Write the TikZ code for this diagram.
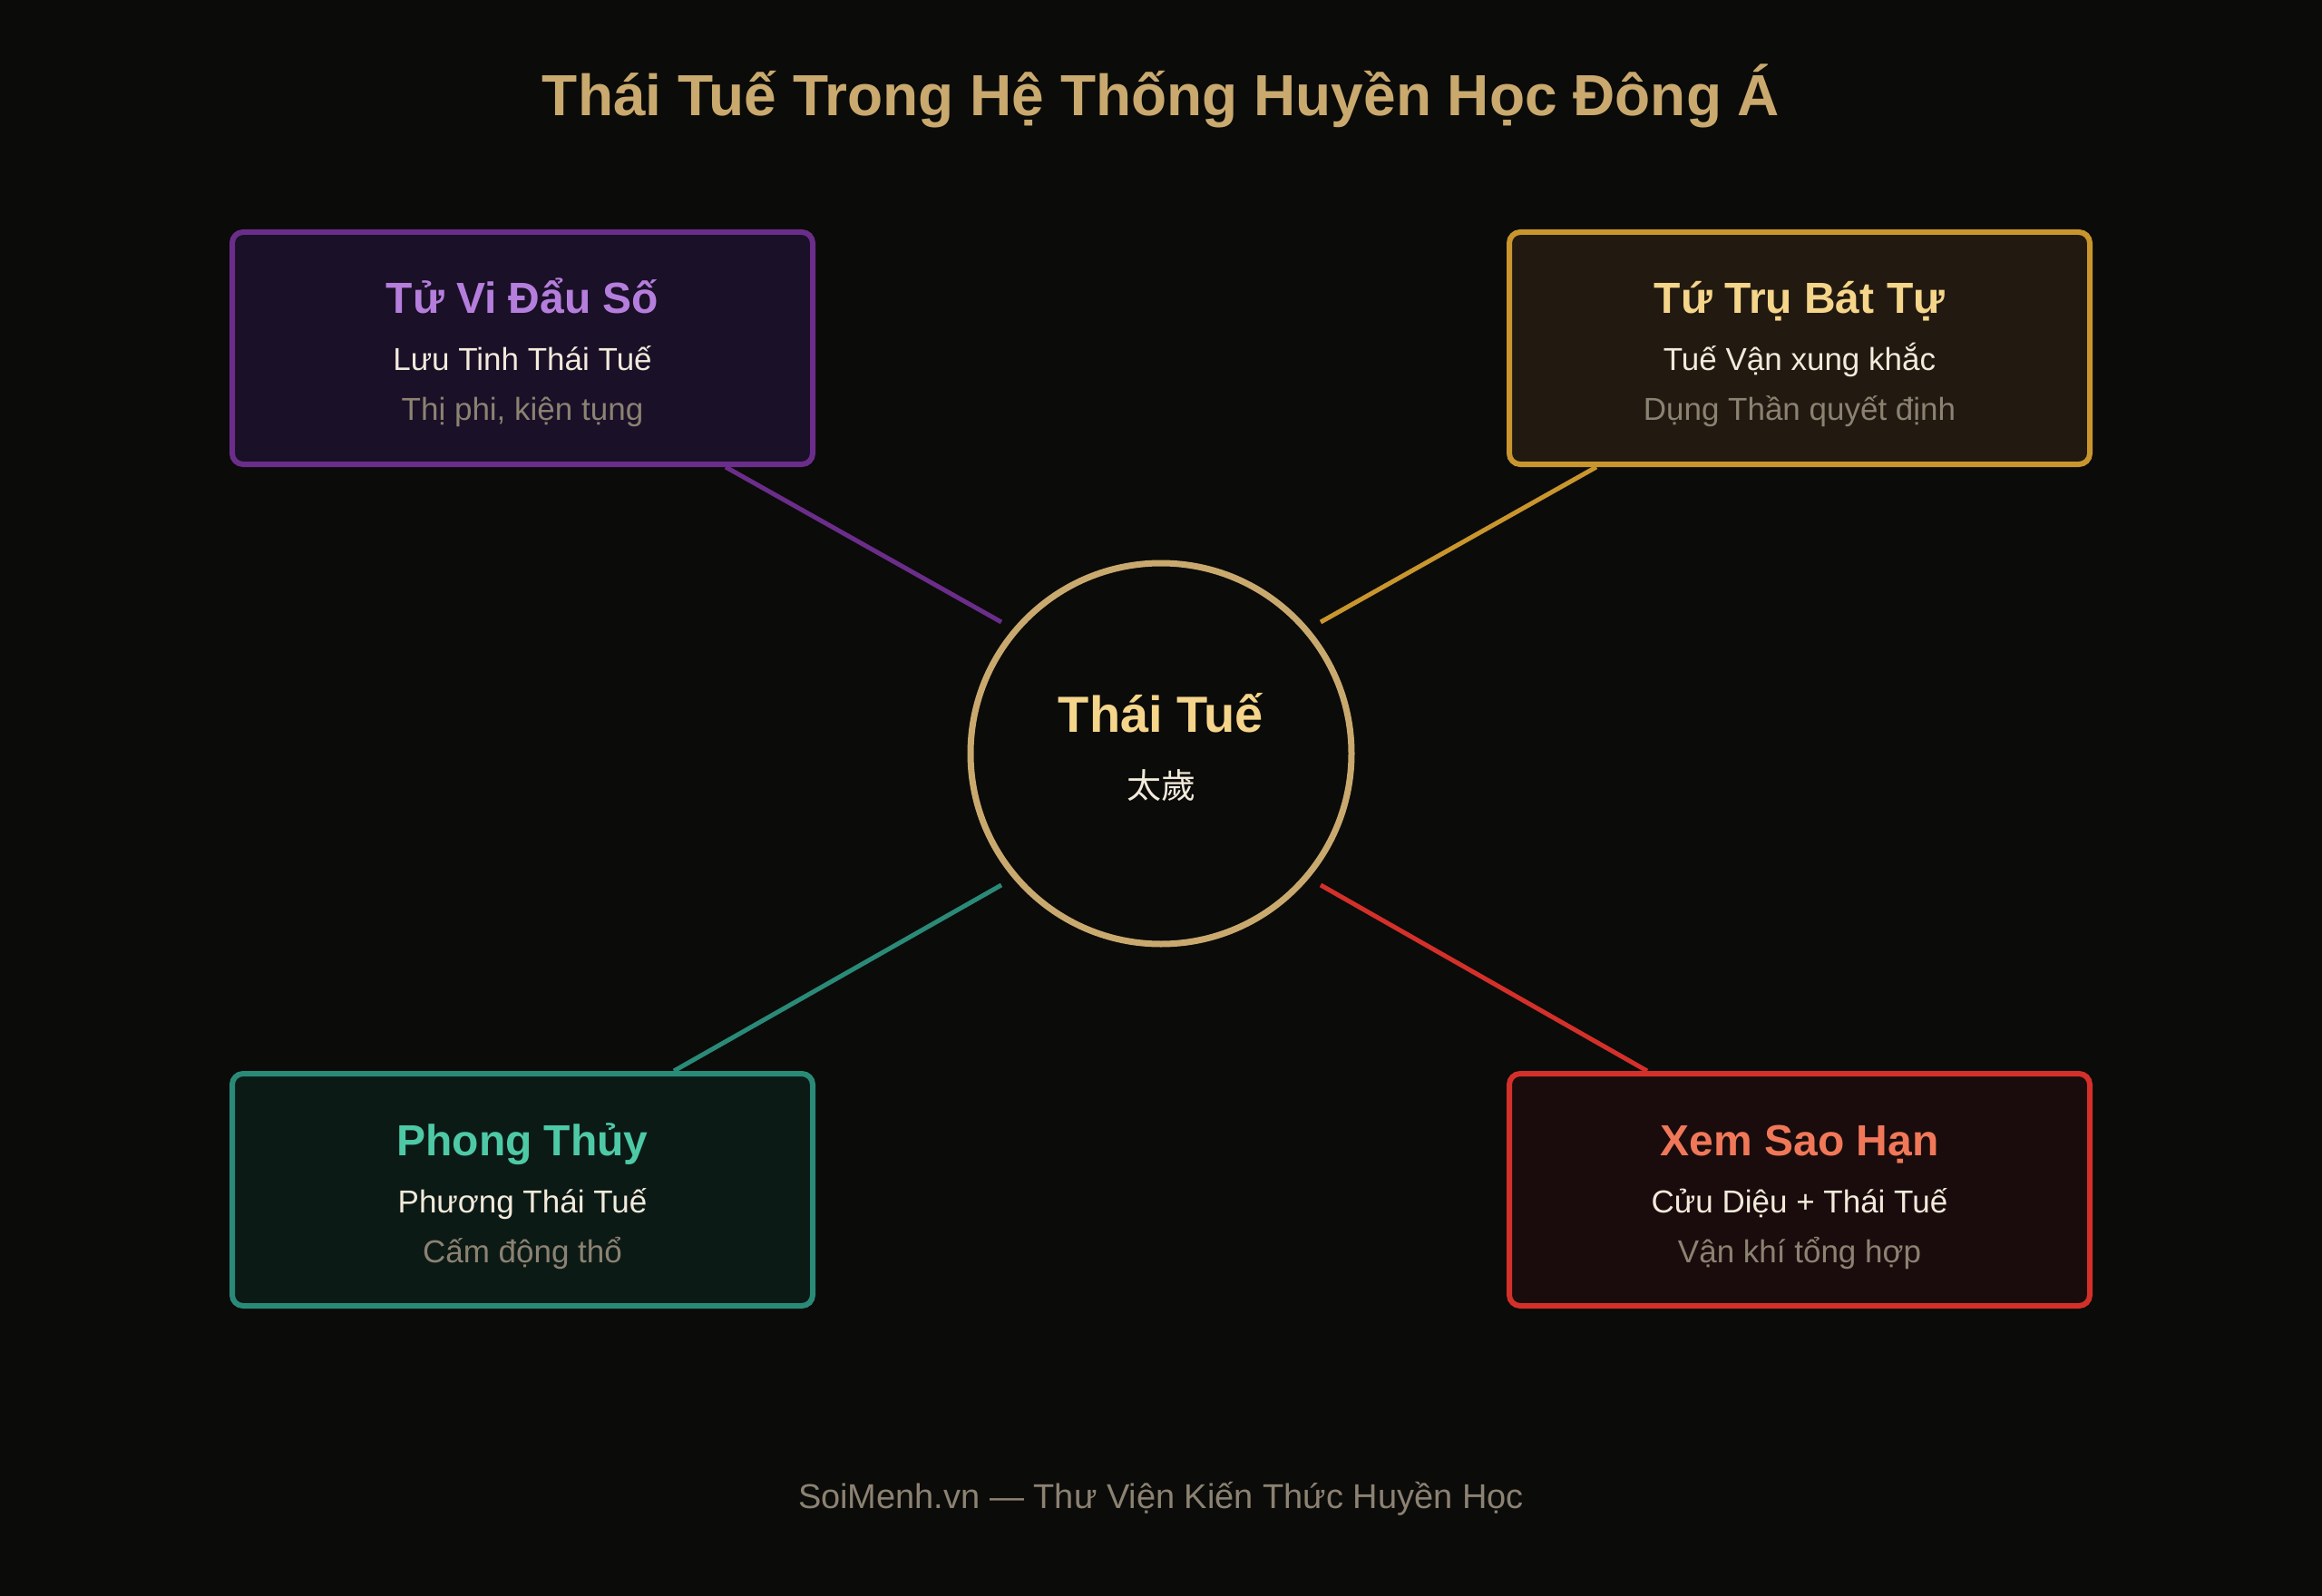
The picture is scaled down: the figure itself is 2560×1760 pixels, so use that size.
\documentclass[tikz,border=0pt]{standalone}
\usepackage{fontspec}
\setmainfont{Liberation Sans}
\newfontfamily\cjk{Noto Sans CJK TC}
\definecolor{bg}{HTML}{0B0B09}
\definecolor{titlegold}{HTML}{C9A96E}
\definecolor{lightgold}{HTML}{F5D58A}
\definecolor{cream}{HTML}{F2EADA}
\definecolor{muted}{HTML}{8C8272}
\definecolor{purpS}{HTML}{6B2D8A}
\definecolor{purpF}{HTML}{1A1028}
\definecolor{purpT}{HTML}{B57EDC}
\definecolor{goldS}{HTML}{C9962E}
\definecolor{goldF}{HTML}{221A10}
\definecolor{tealS}{HTML}{2A8A78}
\definecolor{tealF}{HTML}{0C1A16}
\definecolor{tealT}{HTML}{4EC9A6}
\definecolor{redS}{HTML}{D4302A}
\definecolor{redF}{HTML}{1A0C0C}
\definecolor{redT}{HTML}{F07858}
\begin{document}
\begin{tikzpicture}[x=1pt,y=-1pt,
  box/.style={draw, rounded corners=12pt, line width=6pt, minimum width=640pt, minimum height=256pt, inner sep=0pt},
  ttl/.style={anchor=base, inner sep=0pt, font=\fontsize{48}{56}\selectfont\bfseries},
  sub/.style={anchor=base, inner sep=0pt, text=cream, font=\fontsize{35}{40}\selectfont},
  note/.style={anchor=base, inner sep=0pt, text=muted, font=\fontsize{35}{40}\selectfont},
  link/.style={line width=5pt}]
\fill[bg] (0,0) rectangle (2560,1760);
\useasboundingbox (0,0) rectangle (2560,1760);
% title
\node[anchor=base, inner sep=0pt, text=titlegold, font=\fontsize{64}{76}\selectfont\bfseries] (title) at (1280,128) {Thái Tuế Trong Hệ Thống Huyền Học Đông Á};
% boxes
\node[box, draw=purpS, fill=purpF] (tl) at (576,384) {};
\node[box, draw=goldS, fill=goldF] (tr) at (1984,384) {};
\node[box, draw=tealS, fill=tealF] (bl) at (576,1312) {};
\node[box, draw=redS, fill=redF] (br) at (1984,1312) {};
% center circle
\node[circle, draw=titlegold, line width=7pt, minimum size=420pt, inner sep=0pt] (cc) at (1280,831) {};
\node[anchor=base, inner sep=0pt, text=lightgold, font=\fontsize{56}{66}\selectfont\bfseries] (ccA) at (1280,807) {Thái Tuế};
\node[anchor=base, inner sep=0pt, text=cream, font=\fontsize{38}{44}\selectfont\cjk] (ccB) at (1280,880) {太歲};
% box texts
\node[ttl, text=purpT] (tlA) at (576,346) {Tử Vi Đẩu Số};
\node[sub] (tlB) at (576,409) {Lưu Tinh Thái Tuế};
\node[note] (tlC) at (576,464) {Thị phi, kiện tụng};
\node[ttl, text=lightgold] (trA) at (1984,346) {Tứ Trụ Bát Tự};
\node[sub] (trB) at (1984,409) {Tuế Vận xung khắc};
\node[note] (trC) at (1984,464) {Dụng Thần quyết định};
\node[ttl, text=tealT] (blA) at (576,1274) {Phong Thủy};
\node[sub] (blB) at (576,1337) {Phương Thái Tuế};
\node[note] (blC) at (576,1392) {Cấm động thổ};
\node[ttl, text=redT] (brA) at (1984,1274) {Xem Sao Hạn};
\node[sub] (brB) at (1984,1337) {Cửu Diệu + Thái Tuế};
\node[note] (brC) at (1984,1392) {Vận khí tổng hợp};
% connectors
\draw[link, purpS] ([shift={(-176,-145)}]cc.center) -- ([xshift=224pt]tl.south);
\draw[link, goldS] ([shift={(176,-145)}]cc.center) -- ([xshift=-224pt]tr.south);
\draw[link, tealS] ([shift={(-176,145)}]cc.center) -- ([xshift=167pt]bl.north);
\draw[link, redS] ([shift={(176,145)}]cc.center) -- ([xshift=-168pt]br.north);
% footer
\node[anchor=base, inner sep=0pt, text=muted, font=\fontsize{38}{44}\selectfont] (foot) at (1280,1663) {SoiMenh.vn — Thư Viện Kiến Thức Huyền Học};
\end{tikzpicture}
\end{document}
